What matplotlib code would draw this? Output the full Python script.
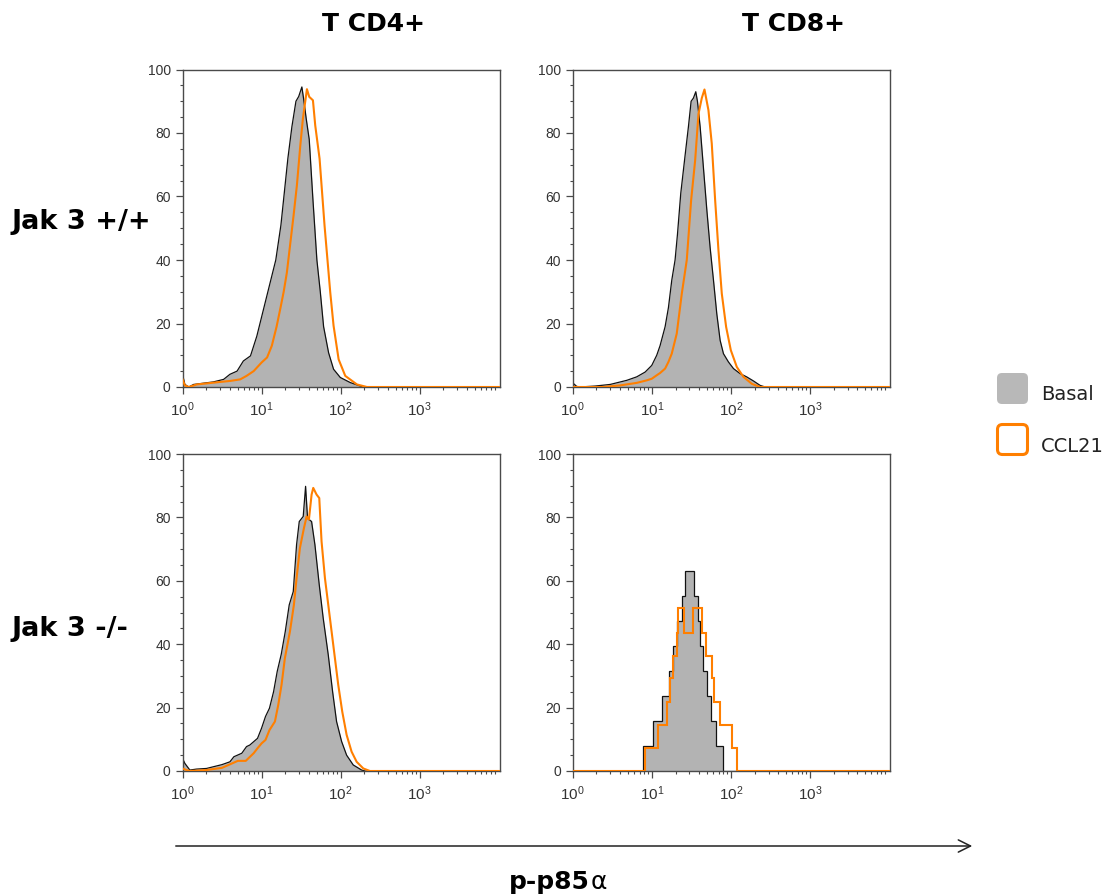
import numpy as np
import matplotlib.pyplot as plt
from matplotlib.patches import FancyBboxPatch
from matplotlib.ticker import MultipleLocator, FixedLocator, NullFormatter

plt.rcParams['font.family'] = ['Liberation Sans', 'DejaVu Sans']

GRAY = '#b3b3b3'
ORANGE = '#ff7f00'
FRAME = '#4a4a4a'

# x = log10 of p-p85a intensity, y = % of max

# T CD4+, Jak3 +/+
cd4_wt_basal_log = [0.00, 0.03, 0.08, 0.14, 0.39, 0.52, 0.60, 0.69, 0.77, 0.86,
                    0.94, 1.00, 1.08, 1.18, 1.245, 1.287, 1.333, 1.384, 1.435, 1.47,
                    1.51, 1.532, 1.565, 1.603, 1.65, 1.70, 1.743, 1.785, 1.848, 1.911,
                    1.996, 2.122, 2.249, 2.291, 4.01]
cd4_wt_basal_pct = [4.0, 0.8, 0.0, 0.8, 1.6, 2.4, 4.0, 5.0, 8.2, 9.8,
                    16.0, 22.0, 30.0, 40.0, 51.0, 61.0, 72.0, 82.0, 90.0, 91.5,
                    94.5, 90.8, 84.5, 78.0, 59.0, 40.0, 30.0, 19.0, 10.8, 5.6,
                    3.0, 1.4, 0.3, 0.0, 0.0]
cd4_wt_ccl_log = [0.00, 0.03, 0.08, 0.18, 0.48, 0.60, 0.73, 0.81, 0.90, 1.00,
                  1.07, 1.13, 1.19, 1.24, 1.28, 1.32, 1.36, 1.405, 1.447, 1.49,
                  1.523, 1.574, 1.603, 1.65, 1.679, 1.734, 1.797, 1.869, 1.911, 1.975,
                  2.059, 2.207, 2.333, 4.01]
cd4_wt_ccl_pct = [2.4, 0.5, 0.0, 0.8, 1.6, 1.9, 2.4, 3.5, 5.0, 7.7,
                  9.3, 13.0, 19.0, 25.0, 30.0, 36.0, 44.5, 54.0, 63.5, 76.0,
                  84.5, 93.8, 91.4, 90.3, 82.4, 71.9, 50.8, 29.8, 19.3, 8.7,
                  3.5, 0.8, 0.0, 0.0]

# T CD8+, Jak3 +/+
cd8_wt_basal_log = [0.00, 0.05, 0.09, 0.283, 0.473, 0.684, 0.81, 0.916, 1.00, 1.063,
                    1.105, 1.169, 1.211, 1.253, 1.295, 1.325, 1.367, 1.422, 1.464, 1.498,
                    1.527, 1.557, 1.578, 1.612, 1.654, 1.696, 1.738, 1.781, 1.823, 1.865,
                    1.907, 1.97, 2.034, 2.118, 2.20, 2.287, 2.371, 2.435, 4.01]
cd8_wt_basal_pct = [1.3, 0.2, 0.0, 0.3, 0.8, 2.1, 3.2, 4.7, 6.8, 10.0,
                    13.0, 19.0, 25.0, 33.6, 40.0, 48.0, 61.0, 73.0, 82.0, 90.0,
                    91.0, 93.0, 90.0, 82.0, 69.0, 56.0, 44.0, 33.6, 23.0, 14.7,
                    10.5, 7.9, 5.8, 4.2, 3.2, 1.9, 0.5, 0.0, 0.0]
cd8_wt_ccl_log = [0.00, 0.388, 0.60, 0.81, 0.937, 1.00, 1.063, 1.105, 1.169, 1.211,
                  1.253, 1.316, 1.38, 1.443, 1.498, 1.549, 1.591, 1.633, 1.667, 1.717,
                  1.759, 1.802, 1.844, 1.886, 1.941, 2.00, 2.076, 2.16, 2.266, 2.371, 4.01]
cd8_wt_ccl_pct = [0.0, 0.0, 0.5, 1.3, 2.1, 2.6, 3.7, 4.4, 5.8, 7.9,
                  10.5, 16.8, 29.4, 40.0, 58.8, 71.4, 86.0, 91.0, 93.7, 87.2,
                  76.7, 58.8, 43.0, 29.4, 18.9, 11.6, 6.3, 3.2, 1.0, 0.0, 0.0]

# T CD4+, Jak3 -/-
cd4_ko_basal_log = [0.00, 0.03, 0.093, 0.177, 0.304, 0.40, 0.498, 0.60, 0.65, 0.75,
                    0.81, 0.852, 0.949, 1.00, 1.05, 1.10, 1.152, 1.198, 1.249, 1.30,
                    1.35, 1.401, 1.443, 1.477, 1.527, 1.557, 1.582, 1.633, 1.675, 1.73,
                    1.78, 1.844, 1.899, 1.949, 2.013, 2.076, 2.16, 2.266, 2.31, 4.01]
cd4_ko_basal_pct = [4.0, 2.4, 0.3, 0.6, 0.8, 1.4, 2.0, 2.9, 4.5, 5.6,
                    7.7, 8.2, 10.3, 13.5, 17.2, 19.8, 25.0, 31.4, 36.8, 44.0,
                    52.4, 56.6, 71.4, 78.7, 80.3, 89.8, 79.7, 78.7, 71.4, 58.7,
                    48.2, 36.6, 25.0, 15.6, 9.3, 5.0, 1.9, 0.3, 0.0, 0.0]
cd4_ko_ccl_log = [0.00, 0.05, 0.093, 0.30, 0.50, 0.60, 0.70, 0.80, 0.90, 0.95,
                  1.00, 1.05, 1.10, 1.169, 1.211, 1.253, 1.295, 1.359, 1.409, 1.443,
                  1.485, 1.536, 1.57, 1.599, 1.633, 1.654, 1.696, 1.73, 1.759, 1.802,
                  1.844, 1.886, 1.928, 1.97, 2.021, 2.076, 2.139, 2.203, 2.287, 2.371, 4.01]
cd4_ko_ccl_pct = [0.8, 0.3, 0.0, 0.3, 1.0, 2.1, 3.2, 3.2, 5.6, 7.2,
                  8.7, 9.8, 12.9, 15.6, 20.8, 27.2, 35.6, 44.0, 52.4, 60.8,
                  70.3, 76.6, 80.3, 79.3, 87.2, 89.3, 87.2, 86.1, 72.4, 60.8,
                  52.4, 44.0, 35.6, 27.2, 18.7, 11.4, 6.1, 2.9, 0.8, 0.0, 0.0]

# T CD8+, Jak3 -/- (few events, binned steps)
cd8_ko_basal_edges = [0.0, 0.886, 1.021, 1.134, 1.223, 1.266, 1.316, 1.380, 1.422,
                      1.536, 1.590, 1.611, 1.654, 1.704, 1.751, 1.814, 1.899, 4.01]
cd8_ko_basal_pct = [0.0, 7.9, 15.8, 23.7, 31.6, 39.5, 47.4, 55.3, 63.2,
                    55.3, 47.4, 39.5, 31.6, 23.7, 15.8, 7.9, 0.0]
cd8_ko_ccl_edges = [0.0, 0.915, 1.076, 1.19, 1.232, 1.274, 1.316, 1.337, 1.409,
                    1.519, 1.633, 1.687, 1.759, 1.793, 1.865, 2.012, 2.076, 4.01]
cd8_ko_ccl_pct = [0.0, 7.2, 14.5, 21.9, 29.2, 36.3, 43.6, 51.3, 43.6,
                  51.3, 43.6, 36.3, 29.2, 21.9, 14.5, 7.2, 0.0]

col_titles = ['T CD4+', 'T CD8+']
row_titles = ['Jak 3 +/+', 'Jak 3 -/-']
legend_labels = ['Basal', 'CCL21']
x_ticks = [1, 10, 100, 1000]
x_ticklabels = [r'$\mathregular{10^{0}}$', r'$\mathregular{10^{1}}$',
                r'$\mathregular{10^{2}}$', r'$\mathregular{10^{3}}$']


def style_axes(ax):
    ax.set_xscale('log')
    ax.set_xlim(1, 10 ** 4.01)
    ax.set_ylim(0, 100)
    ax.xaxis.set_major_locator(FixedLocator(x_ticks))
    ax.set_xticklabels(x_ticklabels)
    minors = [m * 10 ** d for d in range(4) for m in range(2, 10)]
    ax.xaxis.set_minor_locator(FixedLocator(minors))
    ax.xaxis.set_minor_formatter(NullFormatter())
    ax.yaxis.set_major_locator(MultipleLocator(20))
    ax.yaxis.set_minor_locator(MultipleLocator(5))
    for s in ax.spines.values():
        s.set_color(FRAME)
        s.set_linewidth(1.0)
    ax.tick_params(which='major', direction='out', length=5, width=0.9,
                   color=FRAME, labelcolor='#333333')
    ax.tick_params(which='minor', direction='out', length=2.5, width=0.8, color=FRAME)
    ax.tick_params(axis='y', pad=3.5, labelsize=10)
    ax.tick_params(axis='x', pad=4.5, labelsize=11)


def smooth_panel(ax, b_log, b_pct, c_log, c_pct):
    bx = np.power(10.0, b_log)
    ax.fill_between(bx, b_pct, 0, color=GRAY, lw=0, zorder=1)
    ax.plot(bx, b_pct, color='#111111', lw=0.9, zorder=2)
    ax.plot(np.power(10.0, c_log), c_pct, color=ORANGE, lw=1.5, zorder=3)
    style_axes(ax)


def step_panel(ax, b_edges, b_pct, c_edges, c_pct):
    be = np.power(10.0, b_edges)
    ax.stairs(b_pct, be, fill=True, color=GRAY, lw=0, zorder=1)
    ax.stairs(b_pct, be, color='#111111', lw=0.9, zorder=2)
    ax.stairs(c_pct, np.power(10.0, c_edges), color=ORANGE, lw=1.5, zorder=3)
    style_axes(ax)


fig = plt.figure(figsize=(11.13, 8.94), dpi=100)
W, H = 1113, 894

# panel boxes in pixels: left, top, right, bottom
boxes = [(182.5, 69.5, 499.5, 387), (572.7, 69.5, 889.7, 387),
         (182.5, 454, 499.5, 771), (572.7, 454, 889.7, 771)]
axes = []
for l, t, r, b in boxes:
    axes.append(fig.add_axes([l / W, 1 - b / H, (r - l) / W, (b - t) / H]))

smooth_panel(axes[0], cd4_wt_basal_log, cd4_wt_basal_pct, cd4_wt_ccl_log, cd4_wt_ccl_pct)
smooth_panel(axes[1], cd8_wt_basal_log, cd8_wt_basal_pct, cd8_wt_ccl_log, cd8_wt_ccl_pct)
smooth_panel(axes[2], cd4_ko_basal_log, cd4_ko_basal_pct, cd4_ko_ccl_log, cd4_ko_ccl_pct)
step_panel(axes[3], cd8_ko_basal_edges, cd8_ko_basal_pct, cd8_ko_ccl_edges, cd8_ko_ccl_pct)

# overlay in pixel coordinates for titles, legend and the axis arrow
ov = fig.add_axes([0, 0, 1, 1])
ov.set_xlim(0, W)
ov.set_ylim(H, 0)
ov.axis('off')

bold = dict(family='DejaVu Sans', fontweight='bold', color='black')
ov.text(374, 24, col_titles[0], ha='center', va='center', fontsize=18, **bold)
ov.text(794, 24, col_titles[1], ha='center', va='center', fontsize=18, **bold)
ov.text(12, 222, row_titles[0], ha='left', va='center', fontsize=19.5, **bold)
ov.text(12, 629, row_titles[1], ha='left', va='center', fontsize=19.5, **bold)

ov.add_patch(FancyBboxPatch((997, 373), 31, 31, boxstyle='round,pad=0,rounding_size=5',
                            fc='#b8b8b8', ec='none'))
ov.add_patch(FancyBboxPatch((997.5, 424.5), 30, 30, boxstyle='round,pad=0,rounding_size=5',
                            fc='none', ec=ORANGE, lw=2.2))
ov.text(1041, 394, legend_labels[0], ha='left', va='center', fontsize=14,
        family='DejaVu Sans', color='#222222')
ov.text(1041, 447, legend_labels[1], ha='left', va='center', fontsize=14,
        family='DejaVu Sans', color='#222222')

ov.annotate('', xy=(975, 846), xytext=(173, 846),
            arrowprops=dict(arrowstyle='->', lw=1.1, color='#222222', mutation_scale=22))
ov.text(590, 889, 'p-p85', ha='right', va='baseline', fontsize=18, **bold)
ov.text(591, 889, '\u03b1', ha='left', va='baseline', fontsize=18,
        family='DejaVu Sans', color='black')

fig.savefig('out.png', dpi=100)
